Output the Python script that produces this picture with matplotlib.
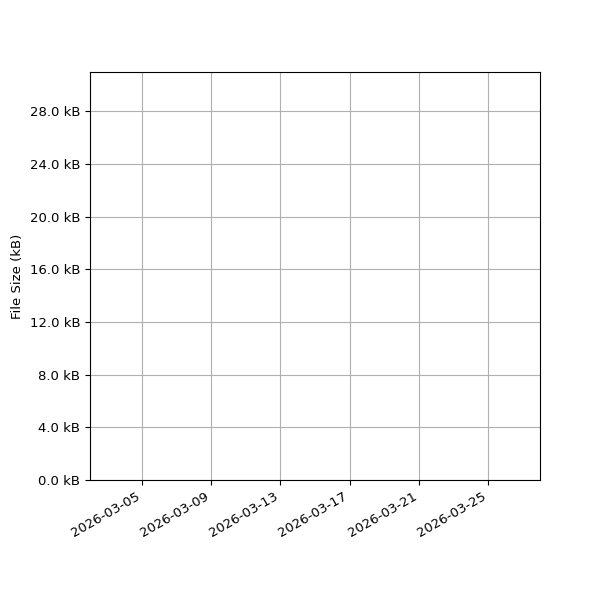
import matplotlib
matplotlib.use("Agg")
import matplotlib.pyplot as plt
import matplotlib.dates as mdates
from matplotlib.ticker import FuncFormatter, MultipleLocator
import datetime as dt

plt.rcParams["font.size"] = 9.5

# Data (the reference chart shows no plotted series)
dates = []
sizes_kb = []

x_start = dt.datetime(2026, 3, 2)
x_end = dt.datetime(2026, 3, 28)
y_max_kb = 31.0
y_step_kb = 4.0

fig, ax = plt.subplots(figsize=(6, 6), dpi=100)
ax.plot(dates, sizes_kb)
ax.set_xlim(x_start, x_end)
ax.set_ylim(0, y_max_kb)
ax.yaxis.set_major_locator(MultipleLocator(y_step_kb))
ax.yaxis.set_major_formatter(FuncFormatter(lambda v, p: f"{v:.1f} kB"))
ax.xaxis.set_major_locator(mdates.DayLocator(bymonthday=[5, 9, 13, 17, 21, 25]))
ax.xaxis.set_major_formatter(mdates.DateFormatter("%Y-%m-%d"))
ax.set_ylabel("File Size (kB)")
ax.grid(True, color="#b0b0b0")
fig.autofmt_xdate()
fig.subplots_adjust(left=0.15, right=0.9, top=0.88, bottom=0.2)
fig.savefig("out.png", dpi=100)
